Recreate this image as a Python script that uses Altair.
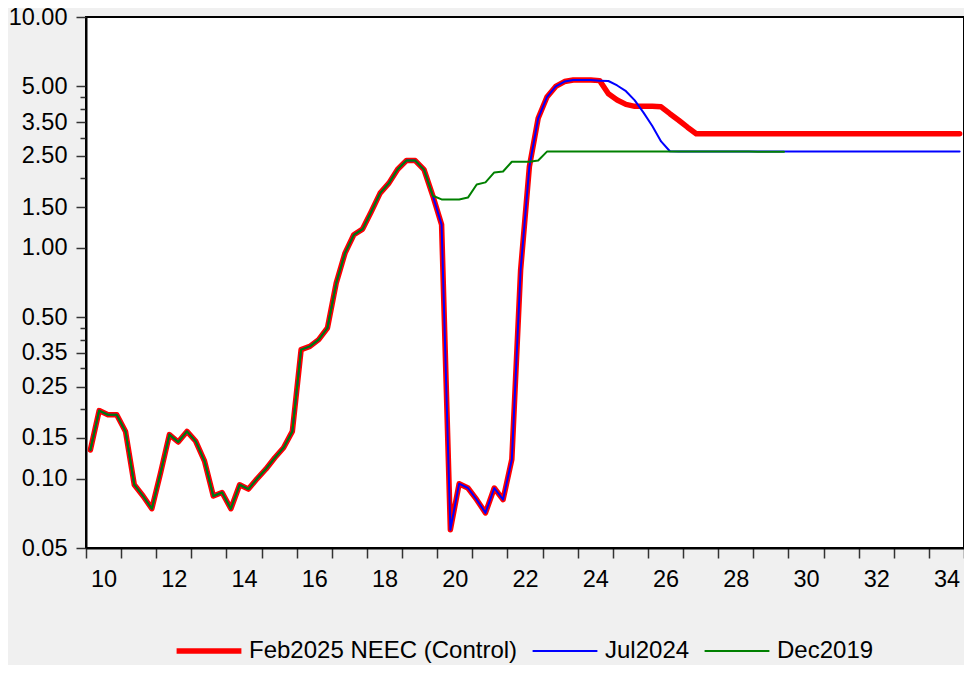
import altair as alt
import pandas as pd

# Quarterly observations 2010Q1 .. 2034Q4
years = list(range(2010, 2035))
quarters = [1, 2, 3, 4]

series_names = ["Feb2025 NEEC (Control)", "Jul2024", "Dec2019"]
series_colors = ["#FF0000", "#0000FF", "#008000"]
series_widths = [5.5, 2, 2]

feb2025 = [
    0.133, 0.197, 0.189, 0.189,   # 2010
    0.160, 0.094, 0.084, 0.074,   # 2011
    0.106, 0.155, 0.144, 0.160,   # 2012
    0.145, 0.119, 0.084, 0.087,   # 2013
    0.074, 0.094, 0.090, 0.100,   # 2014
    0.110, 0.123, 0.136, 0.160,   # 2015
    0.362, 0.374, 0.400, 0.449,   # 2016
    0.703, 0.948, 1.138, 1.205,   # 2017
    1.437, 1.725, 1.906, 2.190,   # 2018
    2.387, 2.387, 2.180, 1.680,   # 2019
    1.260, 0.060, 0.095, 0.091,   # 2020
    0.081, 0.071, 0.091, 0.081,   # 2021
    0.121, 0.800, 2.250, 3.640,   # 2022
    4.500, 5.000, 5.250, 5.330,   # 2023
    5.330, 5.330, 5.300, 4.650,   # 2024
    4.370, 4.180, 4.100, 4.100,   # 2025
    4.100, 4.080, 3.810, 3.570,   # 2026
    3.330, 3.120, 3.120, 3.120,   # 2027
    3.120, 3.120, 3.120, 3.120,   # 2028
    3.120, 3.120, 3.120, 3.120,   # 2029
    3.120, 3.120, 3.120, 3.120,   # 2030
    3.120, 3.120, 3.120, 3.120,   # 2031
    3.120, 3.120, 3.120, 3.120,   # 2032
    3.120, 3.120, 3.120, 3.120,   # 2033
    3.120, 3.120, 3.120, 3.120,   # 2034
]

jul2024 = [
    0.133, 0.197, 0.189, 0.189,   # 2010
    0.160, 0.094, 0.084, 0.074,   # 2011
    0.106, 0.155, 0.144, 0.160,   # 2012
    0.145, 0.119, 0.084, 0.087,   # 2013
    0.074, 0.094, 0.090, 0.100,   # 2014
    0.110, 0.123, 0.136, 0.160,   # 2015
    0.362, 0.374, 0.400, 0.449,   # 2016
    0.703, 0.948, 1.138, 1.205,   # 2017
    1.437, 1.725, 1.906, 2.190,   # 2018
    2.387, 2.387, 2.180, 1.680,   # 2019
    1.260, 0.060, 0.095, 0.091,   # 2020
    0.081, 0.071, 0.091, 0.081,   # 2021
    0.121, 0.800, 2.250, 3.640,   # 2022
    4.500, 5.000, 5.250, 5.330,   # 2023
    5.330, 5.330, 5.300, 5.280,   # 2024
    5.050, 4.770, 4.350, 3.850,   # 2025
    3.370, 2.890, 2.620, 2.610,   # 2026
    2.610, 2.610, 2.610, 2.610,   # 2027
    2.610, 2.610, 2.610, 2.610,   # 2028
    2.610, 2.610, 2.610, 2.610,   # 2029
    2.610, 2.610, 2.610, 2.610,   # 2030
    2.610, 2.610, 2.610, 2.610,   # 2031
    2.610, 2.610, 2.610, 2.610,   # 2032
    2.610, 2.610, 2.610, 2.610,   # 2033
    2.610, 2.610, 2.610, 2.610,   # 2034
]

dec2019 = [
    0.133, 0.197, 0.189, 0.189,   # 2010
    0.160, 0.094, 0.084, 0.074,   # 2011
    0.106, 0.155, 0.144, 0.160,   # 2012
    0.145, 0.119, 0.084, 0.087,   # 2013
    0.074, 0.094, 0.090, 0.100,   # 2014
    0.110, 0.123, 0.136, 0.160,   # 2015
    0.362, 0.374, 0.400, 0.449,   # 2016
    0.703, 0.948, 1.138, 1.205,   # 2017
    1.437, 1.725, 1.906, 2.190,   # 2018
    2.387, 2.387, 2.180, 1.680,   # 2019
    1.620, 1.620, 1.620, 1.650,   # 2020
    1.880, 1.920, 2.120, 2.140,   # 2021
    2.360, 2.360, 2.360, 2.390,   # 2022
    2.610, 2.610, 2.610, 2.610,   # 2023
    2.610, 2.610, 2.610, 2.610,   # 2024
    2.610, 2.610, 2.610, 2.610,   # 2025
    2.610, 2.610, 2.610, 2.610,   # 2026
    2.610, 2.610, 2.610, 2.610,   # 2027
    2.610, 2.610, 2.610, 2.610,   # 2028
    2.605, 2.605, 2.605, 2.605,   # 2029
]

y_major = [0.05, 0.10, 0.15, 0.25, 0.35, 0.50, 1.00, 1.50, 2.50, 3.50, 5.00, 10.00]
y_minor = [0.20, 0.30, 0.40, 0.45, 2.00, 3.00, 4.00, 4.50]
x_ticks = list(range(2010, 2036))

# period positions (centre of each quarter)
periods = [y + (q - 1) / 4 + 0.125 for y in years for q in quarters]

rows = []
for name, vals in zip(series_names, [feb2025, jul2024, dec2019]):
    for t, v in zip(periods, vals):
        rows.append({"series": name, "t": t, "v": v})
df = pd.DataFrame(rows)

FONT = "Liberation Sans, Arial, sans-serif"
major_js = "[" + ",".join(str(v) for v in y_major) + "]"

W, H = 878, 531
half_year_px = W / 25 / 2

x_enc = alt.X(
    "t:Q",
    title=None,
    scale=alt.Scale(domain=[2010, 2035], nice=False, zero=False),
    axis=alt.Axis(
        values=x_ticks,
        labelExpr="(datum.value % 2 == 0 && datum.value < 2035) ? slice(toString(datum.value), 2) : ''",
        labelOffset=half_year_px,
        labelOverlap=False,
        labelFlush=False,
        tickSize=10,
        tickWidth=1.5,
        tickColor="#333333",
        labelPadding=9,
        labelFontSize=23.5,
        labelFont=FONT,
        labelColor="#000000",
        domainColor="#000000",
        domainWidth=2,
        grid=False,
    ),
)

y_enc = alt.Y(
    "v:Q",
    title=None,
    scale=alt.Scale(type="log", domain=[0.05, 10], nice=False),
    axis=alt.Axis(
        values=sorted(y_major + y_minor),
        labelExpr="indexof(" + major_js + ", datum.value) >= 0 ? format(datum.value, '.2f') : ''",
        tickSize={"condition": {"test": "indexof(" + major_js + ", datum.value) >= 0", "value": 10}, "value": 6},
        tickWidth=1.5,
        tickColor="#333333",
        labelOverlap=False,
        labelPadding=9,
        labelFontSize=23.5,
        labelFont=FONT,
        labelColor="#000000",
        domainColor="#000000",
        domainWidth=2,
        grid=False,
    ),
)

width_expr = (
    "datum.value == '" + series_names[0] + "' ? " + str(series_widths[0]) + " : " + str(series_widths[1])
)

color_enc = alt.Color(
    "series:N",
    title=None,
    scale=alt.Scale(domain=series_names, range=series_colors),
    legend=alt.Legend(
        orient="none",
        legendX=111,
        legendY=622,
        direction="horizontal",
        symbolType="stroke",
        symbolSize=4200,
        symbolStrokeWidth=alt.ExprRef(expr=width_expr),
        labelFontSize=24,
        labelFont=FONT,
        labelColor="#000000",
        labelLimit=600,
        columnPadding=10,
        labelOffset=28,
        padding=0,
    ),
)

layers = []
for name, sw in zip(series_names, series_widths):
    layers.append(
        alt.Chart(df)
        .transform_filter(alt.datum.series == name)
        .mark_line(strokeJoin="round", strokeCap="round", clip=True, strokeWidth=sw)
        .encode(x=x_enc, y=y_enc, color=color_enc)
    )

chart = (
    alt.layer(*layers)
    .properties(
        width=W,
        height=H,
        autosize=alt.AutoSizeParams(type="none"),
        padding={"left": 78, "top": 9, "right": 0, "bottom": 117},
        background="#F0F0F0",
    )
    .configure_view(fill="#FFFFFF", stroke="#000000", strokeWidth=2)
)

chart.save("out.html", embed_options={"renderer": "svg", "actions": False})
